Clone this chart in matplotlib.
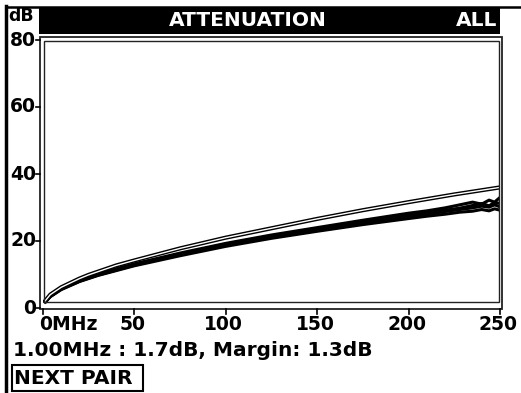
import matplotlib
matplotlib.use("Agg")
import matplotlib.pyplot as plt
from matplotlib.patches import Rectangle
from matplotlib.lines import Line2D

W, H = 521, 393
DPI = 100

# ---- data ----
x_ticks = [0, 50, 100, 150, 200, 250]
x_tick_labels = ["0MHz", "50", "100", "150", "200", "250"]
y_ticks = [0, 20, 40, 60, 80]
y_tick_labels = ["0", "20", "40", "60", "80"]

limit_f = [1, 4, 10, 20, 25, 40, 50, 75, 100, 125, 150, 175, 200, 225, 250]
limit_db = [2.0, 4.0, 6.2, 8.8, 9.9, 12.7, 14.2, 17.8, 21.0, 23.8, 26.6, 29.2, 31.6, 33.9, 36.0]

pair_f = [1, 4, 10, 20, 30, 50, 75, 100, 125, 150, 175, 200, 210, 220, 228, 235, 240, 244, 247, 250]
pair1_db = [1.7, 3.6, 5.8, 8.3, 10.2, 13.2, 16.4, 19.3, 21.8, 24.0, 26.2, 28.3, 29.0, 29.9, 30.8, 31.6, 31.0, 32.2, 31.6, 33.0]
pair2_db = [1.7, 3.5, 5.7, 8.1, 10.0, 13.0, 16.1, 19.0, 21.4, 23.6, 25.7, 27.7, 28.6, 29.2, 29.8, 30.6, 31.2, 30.5, 31.5, 31.2]
pair3_db = [1.6, 3.4, 5.6, 8.0, 9.8, 12.8, 15.9, 18.7, 21.1, 23.2, 25.3, 27.2, 27.9, 28.8, 29.4, 29.9, 30.4, 30.1, 30.8, 30.2]
pair4_db = [1.6, 3.4, 5.5, 7.9, 9.7, 12.6, 15.6, 18.4, 20.8, 22.9, 24.9, 26.7, 27.4, 28.0, 28.6, 28.9, 29.4, 29.0, 29.6, 29.2]

status_text = "1.00MHz : 1.7dB, Margin: 1.3dB"
title_text = "ATTENUATION"
mode_text = "ALL"
unit_text = "dB"
button_text = "NEXT PAIR"

plt.rcParams['font.family'] = ['DejaVu Sans']

fig = plt.figure(figsize=(W / DPI, H / DPI), dpi=DPI)
fig.patch.set_facecolor("white")

def fx(px):
    return px / W

def fy(py):
    return 1 - py / H

# plot area: x 0->43px, 250->500px ; y 0->308px, 80->40px
ax = fig.add_axes([fx(43), fy(308), fx(500) - fx(43), fy(40) - fy(308)])
ax.set_xlim(0, 250)
ax.set_ylim(0, 80)
for s in ax.spines.values():
    s.set_visible(False)
ax.set_xticks(x_ticks)
ax.set_xticklabels([])
ax.set_yticks(y_ticks)
ax.set_yticklabels([])
ax.tick_params(axis="both", length=0)

# curves
for d in [pair4_db, pair3_db, pair2_db, pair1_db]:
    ax.plot(pair_f, d, color="black", lw=2.2, solid_capstyle="butt")
ax.plot(limit_f, limit_db, color="black", lw=3.0)
ax.plot(limit_f, limit_db, color="white", lw=1.0)

# double frame (figure pixel coords)
def rect_px(x0, y0, x1, y1, lw):
    fig.add_artist(Rectangle((fx(x0), fy(y1)), fx(x1) - fx(x0), fy(y0) - fy(y1),
                             transform=fig.transFigure, fill=False,
                             edgecolor="#222222", lw=lw))

rect_px(40, 37, 502, 309, 1.3)
rect_px(44, 41, 499, 302, 1.0)

TICK_FS = 13.5

# ticks and labels
for v, lab in zip(y_ticks, y_tick_labels):
    yd = ax.transData.transform((0, v))[1]
    ypx = H - yd
    fig.add_artist(Line2D([fx(36), fx(40)], [fy(ypx), fy(ypx)], transform=fig.transFigure,
                          color="black", lw=1.2))
    fig.text(fx(36), fy(ypx), lab, ha="right", va="center", fontsize=TICK_FS,
             fontweight="bold", color="black")

for v, lab in zip(x_ticks, x_tick_labels):
    xd = ax.transData.transform((v, 0))[0]
    xpx = xd
    fig.add_artist(Line2D([fx(xpx), fx(xpx)], [fy(309), fy(314)], transform=fig.transFigure,
                          color="black", lw=1.2))
    if v == 0:
        fig.text(fx(xpx - 4), fy(325), lab, ha="left", va="center", fontsize=TICK_FS,
                 fontweight="bold", color="black")
    else:
        fig.text(fx(xpx - 2), fy(325), lab, ha="center", va="center", fontsize=TICK_FS,
                 fontweight="bold", color="black")

# title bar
fig.add_artist(Rectangle((fx(39), fy(34)), fx(500) - fx(39), fy(7) - fy(34),
                         transform=fig.transFigure, facecolor="black", edgecolor="none"))
fig.text(fx(248), fy(20), title_text, ha="center", va="center", fontsize=14.5,
         fontweight="bold", color="white")
fig.text(fx(497), fy(20), mode_text, ha="right", va="center", fontsize=14.5,
         fontweight="bold", color="white")
fig.text(fx(8), fy(16), unit_text, ha="left", va="center", fontsize=12.5,
         fontweight="bold", color="black")

# outer screen border lines
fig.add_artist(Line2D([fx(7), fx(521)], [fy(7), fy(7)], transform=fig.transFigure,
                      color="black", lw=1.8))
fig.add_artist(Line2D([fx(6), fx(6)], [fy(6), fy(393)], transform=fig.transFigure,
                      color="black", lw=2.5))

# status line
fig.text(fx(13), fy(350), status_text, ha="left", va="center", fontsize=14.5,
         fontweight="bold", color="black")

# button
fig.add_artist(Rectangle((fx(12), fy(391)), fx(143) - fx(12), fy(365) - fy(391),
                         transform=fig.transFigure, fill=False, edgecolor="black", lw=1.5))
fig.text(fx(14), fy(378), button_text, ha="left", va="center", fontsize=14.5,
         fontweight="bold", color="black")

fig.savefig("out.png", dpi=DPI)
